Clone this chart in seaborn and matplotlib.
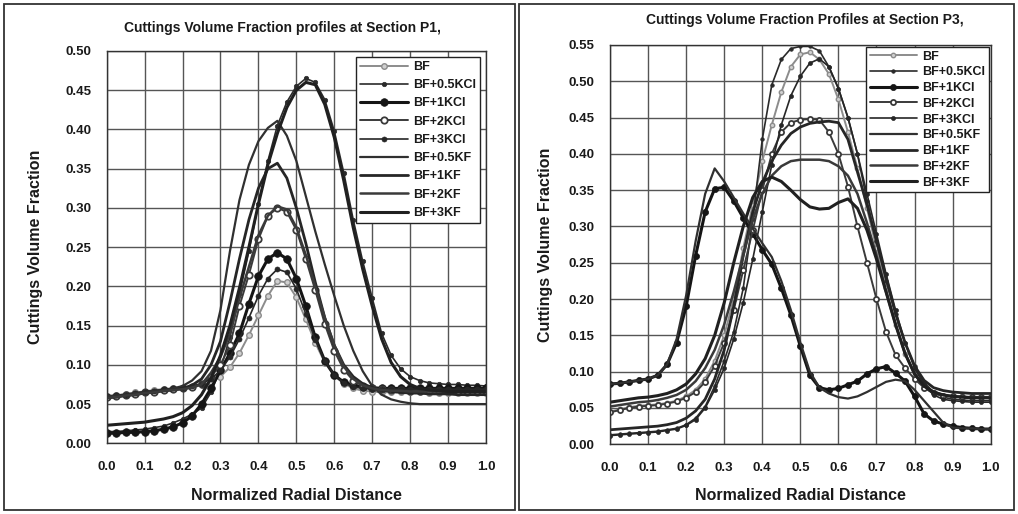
import numpy as np
import pandas as pd
import seaborn as sns
import matplotlib
matplotlib.use("Agg")
import matplotlib.pyplot as plt
from matplotlib.patches import Rectangle
from matplotlib.ticker import MultipleLocator, FormatStrFormatter

# ------------------------------
# Data
# ------------------------------
x_pos = [0.000, 0.025, 0.050, 0.075, 0.100, 0.125, 0.150, 0.175, 0.200, 0.225,
         0.250, 0.275, 0.300, 0.325, 0.350, 0.375, 0.400, 0.425, 0.450, 0.475,
         0.500, 0.525, 0.550, 0.575, 0.600, 0.625, 0.650, 0.675, 0.700, 0.725,
         0.750, 0.775, 0.800, 0.825, 0.850, 0.875, 0.900, 0.925, 0.950, 0.975, 1.000]

labels = ["BF", "BF+0.5KCl", "BF+1KCl", "BF+2KCl", "BF+3KCl",
          "BF+0.5KF", "BF+1KF", "BF+2KF", "BF+3KF"]

# Section P1
p1_bf = [.060, .061, .063, .065, .066, .068, .069, .070, .071, .072,
         .074, .078, .085, .097, .115, .138, .163, .188, .207, .205,
         .186, .158, .128, .103, .086, .076, .070, .067, .066, .065,
         .065, .065, .065, .065, .064, .064, .064, .064, .064, .064, .064]
p1_05kcl = [.015, .015, .016, .017, .018, .020, .022, .026, .031, .037,
            .045, .065, .095, .135, .190, .245, .305, .360, .405, .435,
            .455, .465, .460, .438, .398, .345, .285, .232, .185, .140,
            .112, .095, .085, .080, .077, .076, .075, .075, .074, .074, .073]
p1_1kcl = [.013, .013, .014, .014, .015, .016, .018, .021, .026, .035,
           .050, .070, .093, .115, .140, .178, .213, .235, .243, .235,
           .210, .175, .135, .105, .087, .078, .074, .072, .071, .070,
           .070, .070, .070, .070, .070, .070, .070, .070, .070, .070, .070]
p1_2kcl = [.059, .060, .062, .063, .065, .066, .068, .069, .070, .072,
           .076, .085, .100, .125, .175, .215, .260, .290, .300, .295,
           .272, .235, .195, .152, .118, .094, .080, .073, .070, .069,
           .068, .068, .067, .067, .067, .067, .067, .067, .067, .067, .067]
p1_3kcl = [.060, .061, .062, .064, .066, .067, .069, .070, .071, .073,
           .076, .082, .093, .110, .133, .160, .188, .210, .222, .218,
           .197, .165, .132, .105, .087, .077, .072, .070, .069, .069,
           .069, .069, .069, .069, .069, .069, .069, .069, .069, .069, .069]
p1_05kf = [.060, .061, .062, .064, .065, .067, .068, .070, .073, .080,
           .092, .118, .170, .245, .310, .355, .385, .402, .411, .392,
           .360, .315, .270, .228, .188, .150, .118, .092, .073, .062,
           .056, .053, .051, .050, .050, .050, .050, .050, .050, .050, .050]
p1_1kf = [.058, .059, .061, .062, .064, .065, .067, .068, .070, .074,
          .082, .100, .130, .180, .235, .285, .325, .350, .357, .338,
          .300, .255, .205, .160, .125, .100, .085, .076, .071, .068,
          .066, .065, .064, .064, .063, .063, .063, .062, .062, .062, .062]
p1_2kf = [.058, .059, .061, .062, .064, .065, .067, .068, .069, .071,
          .075, .090, .110, .140, .185, .225, .265, .290, .302, .298,
          .275, .240, .200, .160, .125, .098, .082, .074, .070, .068,
          .067, .067, .066, .066, .066, .066, .066, .066, .066, .066, .066]
p1_3kf = [.023, .024, .025, .026, .027, .029, .031, .034, .039, .048,
          .062, .083, .112, .150, .198, .250, .305, .355, .395, .428,
          .450, .460, .457, .432, .390, .335, .275, .222, .175, .133,
          .103, .085, .075, .070, .068, .067, .066, .066, .066, .066, .066]

# Section P3
p3_bf = [.045, .048, .051, .053, .054, .055, .057, .060, .066, .075,
         .090, .115, .150, .200, .270, .330, .390, .440, .485, .520,
         .537, .540, .530, .510, .475, .430, .380, .325, .270, .215,
         .165, .125, .095, .078, .070, .067, .066, .066, .065, .065, .065]
p3_05kcl = [.013, .014, .015, .016, .017, .018, .020, .022, .027, .036,
            .052, .080, .115, .155, .215, .310, .420, .495, .530, .545,
            .548, .548, .542, .520, .490, .450, .400, .335, .280, .225,
            .180, .140, .108, .085, .072, .065, .062, .061, .060, .060, .060]
p3_1kcl = [.083, .084, .086, .088, .090, .095, .110, .140, .190, .260,
           .320, .352, .354, .335, .312, .290, .268, .248, .215, .178,
           .135, .095, .078, .075, .077, .082, .087, .097, .104, .107,
           .098, .087, .066, .042, .032, .028, .025, .023, .022, .021, .021]
p3_2kcl = [.044, .047, .050, .052, .053, .054, .056, .059, .064, .072,
           .086, .108, .140, .185, .240, .295, .350, .400, .430, .443,
           .447, .448, .447, .430, .400, .355, .300, .250, .200, .155,
           .123, .105, .090, .078, .070, .067, .066, .065, .065, .065, .065]
p3_3kcl = [.012, .013, .014, .015, .016, .017, .019, .021, .026, .034,
           .050, .075, .105, .145, .195, .255, .320, .385, .440, .480,
           .507, .525, .531, .520, .490, .450, .400, .345, .290, .235,
           .185, .140, .105, .082, .068, .062, .060, .059, .058, .058, .058]
p3_05kf = [.083, .084, .086, .088, .090, .095, .110, .145, .205, .280,
           .345, .380, .362, .340, .318, .297, .277, .258, .225, .185,
           .140, .100, .078, .070, .065, .063, .066, .072, .079, .086,
           .089, .087, .075, .060, .045, .030, .023, .022, .022, .021, .021]
p3_1kf = [.020, .021, .022, .023, .024, .025, .027, .030, .036, .046,
          .062, .090, .130, .190, .260, .320, .360, .390, .412, .428,
          .437, .442, .444, .445, .443, .420, .375, .330, .280, .230,
          .180, .140, .108, .088, .078, .074, .072, .071, .070, .070, .070]
p3_2kf = [.052, .054, .056, .058, .059, .061, .064, .068, .075, .087,
          .105, .130, .165, .210, .260, .310, .345, .370, .383, .390,
          .392, .392, .392, .390, .383, .370, .345, .305, .260, .210,
          .165, .125, .097, .080, .072, .068, .066, .065, .065, .065, .065]
p3_3kf = [.058, .060, .062, .064, .065, .067, .070, .075, .083, .097,
          .118, .150, .195, .250, .300, .340, .362, .368, .362, .350,
          .337, .327, .324, .325, .333, .338, .325, .295, .255, .210,
          .165, .125, .097, .080, .072, .068, .066, .065, .064, .064, .064]

p1_series = [p1_bf, p1_05kcl, p1_1kcl, p1_2kcl, p1_3kcl, p1_05kf, p1_1kf, p1_2kf, p1_3kf]
p3_series = [p3_bf, p3_05kcl, p3_1kcl, p3_2kcl, p3_3kcl, p3_05kf, p3_1kf, p3_2kf, p3_3kf]

# ------------------------------
# Styles (grayscale scan look)
# ------------------------------
styles = [
    dict(color="#8c8c8c", lw=1.4, marker="o", ms=4.0, mfc="#d0d0d0", mec="#8c8c8c", mew=1.0),
    dict(color="#2a2a2a", lw=1.2, marker="o", ms=3.2, mfc="#2a2a2a", mec="#2a2a2a", mew=0.5),
    dict(color="#151515", lw=2.2, marker="o", ms=5.5, mfc="#151515", mec="#151515", mew=0.5),
    dict(color="#3a3a3a", lw=1.4, marker="o", ms=4.6, mfc="white", mec="#3a3a3a", mew=1.3),
    dict(color="#262626", lw=1.2, marker="o", ms=3.6, mfc="#262626", mec="#262626", mew=0.5),
    dict(color="#303030", lw=1.6, marker=None),
    dict(color="#262626", lw=2.0, marker=None),
    dict(color="#3a3a3a", lw=1.8, marker=None),
    dict(color="#202020", lw=2.2, marker=None),
]

sns.set_theme(style="white")
plt.rcParams["font.family"] = ["Liberation Sans Narrow", "Liberation Sans", "DejaVu Sans"]
plt.rcParams["font.weight"] = "bold"
plt.rcParams["legend.numpoints"] = 1

fig = plt.figure(figsize=(10.18, 5.14), dpi=100)
fig.patch.set_facecolor("white")

# panel frames from the scanned page
fig.add_artist(Rectangle((4 / 1018, 4 / 514), 511 / 1018, 506 / 514, transform=fig.transFigure,
                         fill=False, ec="#333333", lw=1.3))
fig.add_artist(Rectangle((519 / 1018, 4 / 514), 495 / 1018, 506 / 514, transform=fig.transFigure,
                         fill=False, ec="#333333", lw=1.3))

ax1 = fig.add_axes([0.1048, 0.1375, 0.3726, 0.7633])
ax2 = fig.add_axes([0.5992, 0.1356, 0.3740, 0.7769])


def draw_panel(ax, series, ymax, small):
    for vals, lab, st in zip(series, labels, styles):
        kw = dict(color=st["color"], linewidth=st["lw"])
        if st["marker"]:
            kw.update(marker="o", markersize=st["ms"] * (0.8 if small else 1.0),
                      markerfacecolor=st["mfc"], markeredgecolor=st["mec"],
                      markeredgewidth=st["mew"])
        sns.lineplot(x=x_pos, y=vals, ax=ax, label=lab, **kw)
    ax.set_xlim(0, 1)
    ax.set_ylim(0, ymax)
    ax.xaxis.set_major_locator(MultipleLocator(0.1))
    ax.yaxis.set_major_locator(MultipleLocator(0.05))
    ax.xaxis.set_major_formatter(FormatStrFormatter("%.1f"))
    ax.yaxis.set_major_formatter(FormatStrFormatter("%.2f"))
    ax.grid(True, color="#555555", lw=1.0)
    ax.set_axisbelow(True)
    for s in ax.spines.values():
        s.set_color("#333333")
        s.set_linewidth(1.0)
    ax.tick_params(axis="both", direction="out", length=5, width=1, color="#333333",
                   labelsize=9.5, labelcolor="#1a1a1a", pad=6)
    ax.tick_params(axis="x", pad=8)
    for t in ax.get_xticklabels() + ax.get_yticklabels():
        t.set_fontweight("bold")
    ax.set_xlabel("Normalized Radial Distance", fontsize=11.5, fontweight="bold", color="#1a1a1a")
    ax.set_ylabel("Cuttings Volume Fraction", fontsize=11.5, fontweight="bold", color="#1a1a1a")


draw_panel(ax1, p1_series, 0.50, small=False)
draw_panel(ax2, p3_series, 0.55, small=True)

ax1.xaxis.set_label_coords(0.5, -0.114)
ax1.yaxis.set_label_coords(-0.168, 0.5)
ax2.xaxis.set_label_coords(0.5, -0.109)
ax2.yaxis.set_label_coords(-0.15, 0.5)

leg1 = ax1.legend(loc="upper right", fontsize=9, frameon=True, fancybox=False,
                  edgecolor="#222222", framealpha=1, borderaxespad=0.45,
                  handlelength=3.8, handletextpad=0.4, labelspacing=0.5, borderpad=0.35)
leg2 = ax2.legend(loc="upper right", fontsize=9, frameon=True, fancybox=False,
                  edgecolor="#222222", framealpha=1, borderaxespad=0.15,
                  handlelength=3.8, handletextpad=0.4, labelspacing=0.3, borderpad=0.3)
for leg in (leg1, leg2):
    leg.get_frame().set_linewidth(1.0)
    for t in leg.get_texts():
        t.set_fontweight("bold")
        t.set_color("#1a1a1a")

fig.text(0.277, 0.945, "Cuttings Volume Fraction profiles at Section P1,", ha="center", va="center",
         fontsize=10, fontweight="bold", color="#1a1a1a")
fig.text(0.791, 0.961, "Cuttings Volume Fraction Profiles at Section P3,", ha="center", va="center",
         fontsize=10, fontweight="bold", color="#1a1a1a")

fig.savefig("out.png", dpi=100, facecolor="white")
